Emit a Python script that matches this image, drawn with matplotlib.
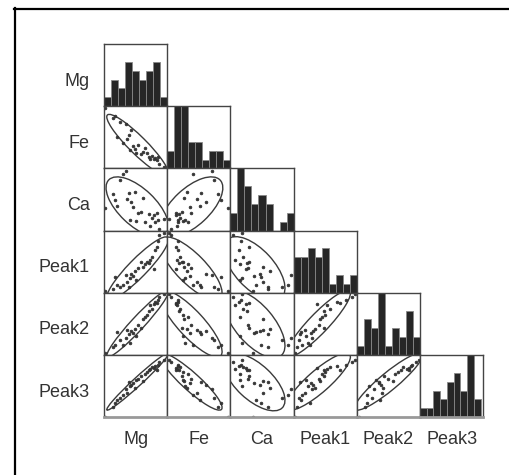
import numpy as np
import matplotlib.pyplot as plt
from matplotlib.patches import Ellipse
from matplotlib.lines import Line2D

plt.rcParams['font.family'] = ['Liberation Sans', 'DejaVu Sans']

names = ["Mg", "Fe", "Ca", "Peak1", "Peak2", "Peak3"]

# 28 samples, values in display units (0-9), sorted roughly by Mg
mg = [0.15, 1.3, 1.6, 1.9, 2.3, 2.7, 3.1, 3.3, 3.5, 3.7, 3.9, 4.2, 4.4, 4.6,
      4.8, 5.2, 5.5, 5.8, 6.1, 6.4, 6.6, 6.9, 7.1, 7.3, 7.5, 7.7, 7.9, 8.6]
fe = [8.7, 7.3, 7.6, 4.6, 6.7, 3.7, 6.4, 4.3, 4.8, 2.6, 5.5, 3.2, 2.8, 2.3,
      3.4, 2.1, 2.4, 2.9, 2.2, 1.7, 1.4, 1.8, 1.3, 1.5, 1.2, 1.6, 0.6, 0.2]
ca = [3.2, 5.3, 4.4, 3.6, 7.3, 8.2, 8.6, 4.6, 5.4, 1.6, 4.2, 3.4, 5.6, 1.4,
      2.5, 2.7, 4.7, 1.3, np.nan, 2.4, 0.6, 1.8, 2.2, 1.2, 2.6, 1.5, 0.3, 1.7]
peak1 = [0.2, 0.5, 2.3, 1.1, 0.8, 1.2, 2.6, 1.6, 0.9, 2.1, 2.7, 2.5, 3.1, 1.8,
         3.6, 4.4, 3.8, 4.1, 4.5, 4.3, 4.8, 5.2, 3.4, 6.2, 6.6, 7.5, 8.3, 8.7]
peak2 = [0.3, 1.2, 1.5, 3.3, 2.2, 1.4, 2.5, 3.6, 3.1, 1.8, 3.5, 3.2, 3.7, 2.8,
         4.4, 3.9, 5.2, 5.5, 5.8, 6.3, 7.2, 6.6, 7.4, 7.7, 7.5, 7.9, 8.4, 8.8]
peak3 = [0.1, 1.5, 2.2, 2.6, 2.9, 3.3, 4.2, 3.7, 5.3, 4.7, 4.9, 5.1, 4.4, 5.6,
         5.8, 6.2, 5.4, 6.5, 6.8, 7.1, 7.3, 7.6, 7.4, 7.8, 7.2, 7.9, 8.3, 8.7]

data = np.array([mg, fe, ca, peak1, peak2, peak3], dtype=float)
limits = [(0, 9), (0, 9), (0, 9), (0, 9), (0, 9), (0, 9.4)]
bins = np.arange(10)

W, H = 509, 475
fig = plt.figure(figsize=(W / 100, H / 100), dpi=100)

x0, cw = 104, 63.2
y0, ch = 44, 62.2
level = 0.85
chi = -2 * np.log(1 - level)

def ellipse(ax, x, y):
    ok = ~np.isnan(x) & ~np.isnan(y)
    cov = np.cov(x[ok], y[ok])
    vals, vecs = np.linalg.eigh(cov)
    ang = np.degrees(np.arctan2(vecs[1, 1], vecs[0, 1]))
    e = Ellipse((x[ok].mean(), y[ok].mean()), 2 * np.sqrt(chi * vals[1]),
                2 * np.sqrt(chi * vals[0]), angle=ang, fill=False,
                edgecolor='#3a3a3a', lw=1.0)
    ax.add_patch(e)

n = len(names)
for i in range(n):
    for j in range(i + 1):
        ax = fig.add_axes([(x0 + j * cw) / W, 1 - (y0 + (i + 1) * ch) / H,
                           cw / W, ch / H])
        ax.set_xticks([])
        ax.set_yticks([])
        for s in ax.spines.values():
            s.set_color('#444444')
            s.set_linewidth(1.0)
        ax.set_xlim(*limits[j])
        if i == j:
            v = data[i][~np.isnan(data[i])]
            ax.hist(v, bins=bins, color='#262626', edgecolor='#888888', lw=0.6)
            ax.set_ylim(0, 7)
        else:
            ax.set_ylim(*limits[i])
            ax.plot(data[j], data[i], 'o', ms=2.0, color='#333333', mew=0.5)
            ellipse(ax, data[j], data[i])
        if i == n - 1:
            ax.spines['bottom'].set_color('#999999')
            ax.spines['bottom'].set_linewidth(2)

for i, nm in enumerate(names):
    fig.text(90 / W, 1 - (y0 + (i + 0.5) * ch + 6) / H, nm, ha='right',
             va='center', fontsize=13, color='#333333')
    fig.text((x0 + (i + 0.5) * cw) / W, 1 - 439 / H, nm, ha='center',
             va='center', fontsize=13, color='#333333')

fig.add_artist(Line2D([14.5 / W, 14.5 / W], [0, 1 - 8 / H], color='black', lw=1.6))
fig.add_artist(Line2D([14 / W, 1], [1 - 8.5 / H, 1 - 8.5 / H], color='black', lw=1.6))

fig.savefig("out.png", dpi=100)
